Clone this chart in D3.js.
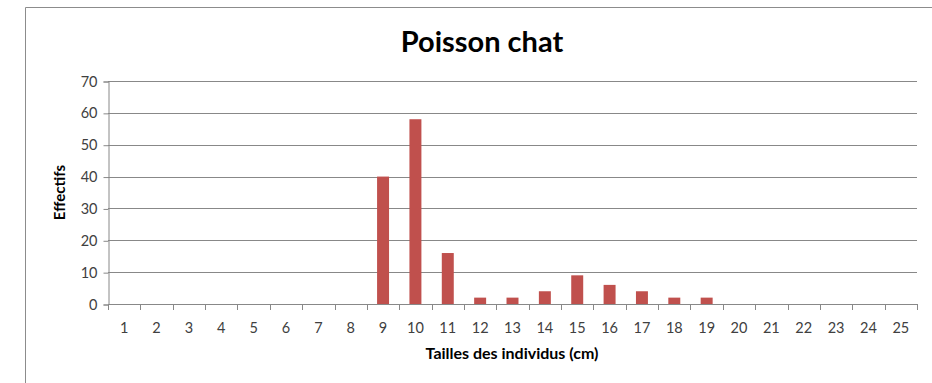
<!DOCTYPE html>
<html>
<head>
<meta charset="utf-8">
<script src="https://cdn.jsdelivr.net/npm/d3@7"></script>
<style>
  html, body { margin: 0; padding: 0; background: #fff; }
  svg { display: block; }
  text { font-family: Lato, "Open Sans", sans-serif; }
</style>
</head>
<body>
<svg id="chart" width="932" height="383"></svg>
<script>
// Size classes (cm) and counts per class
const tailles = d3.range(1, 26).map(String);
const effectifs = [0, 0, 0, 0, 0, 0, 0, 0, 40, 58, 16, 2, 2, 4, 9, 6, 4, 2, 2, 0, 0, 0, 0, 0, 0];
const yTicks = [0, 10, 20, 30, 40, 50, 60, 70];

const title = "Poisson chat";
const xTitle = "Tailles des individus (cm)";
const yTitle = "Effectifs";

const svg = d3.select("#chart");
const W = 932, H = 383;
const plot = { left: 108, right: 917, top: 81, bottom: 304 };

// Outer chart frame
svg.append("path")
  .attr("d", `M25.5,${H} V7.5 H${W}`)
  .attr("fill", "none")
  .attr("stroke", "#8c8c8c")
  .attr("stroke-width", 1);

const x = d3.scaleBand()
  .domain(tailles)
  .range([plot.left, plot.right])
  .paddingInner(0.63)
  .paddingOuter(0.315);

const y = d3.scaleLinear()
  .domain([0, 70])
  .range([plot.bottom, plot.top]);

// Horizontal gridlines
svg.append("g")
  .selectAll("line")
  .data(yTicks.filter(d => d > 0))
  .join("line")
  .attr("x1", plot.left)
  .attr("x2", plot.right)
  .attr("y1", d => Math.round(y(d)) + 0.5)
  .attr("y2", d => Math.round(y(d)) + 0.5)
  .attr("stroke", "#888")
  .attr("stroke-width", 1);

// Bars
svg.append("g")
  .selectAll("rect")
  .data(effectifs.map((v, i) => ({ k: tailles[i], v })))
  .join("rect")
  .attr("x", d => x(d.k))
  .attr("width", x.bandwidth())
  .attr("y", d => y(d.v))
  .attr("height", d => y(0) - y(d.v))
  .attr("fill", "#C0504D");

// Y axis
const yAxis = d3.axisLeft(y).tickValues(yTicks).tickSize(5).tickPadding(6);
const gy = svg.append("g")
  .attr("transform", `translate(${plot.left + 0.5},0.5)`)
  .call(yAxis);
gy.select(".domain").attr("stroke", "#888");
gy.selectAll(".tick line").attr("stroke", "#888");
gy.selectAll(".tick text")
  .attr("font-size", 14.5)
  .attr("fill", "#404040")
  .style("font-family", "Lato, 'Open Sans', sans-serif");

// X axis: ticks on category boundaries, labels centred in each band
const step = x.step();
const boundaries = d3.range(0, tailles.length + 1).map(i => plot.left + i * step);
const gx = svg.append("g");
gx.append("line")
  .attr("x1", plot.left).attr("x2", plot.right + 1)
  .attr("y1", plot.bottom + 0.5).attr("y2", plot.bottom + 0.5)
  .attr("stroke", "#888");
gx.selectAll("line.tk")
  .data(boundaries)
  .join("line")
  .attr("class", "tk")
  .attr("x1", d => Math.round(d) + 0.5)
  .attr("x2", d => Math.round(d) + 0.5)
  .attr("y1", plot.bottom)
  .attr("y2", plot.bottom + 6)
  .attr("stroke", "#888");
gx.selectAll("text")
  .data(tailles)
  .join("text")
  .attr("x", d => x(d) + x.bandwidth() / 2)
  .attr("y", 333)
  .attr("text-anchor", "middle")
  .attr("font-size", 14.5)
  .attr("fill", "#404040")
  .text(d => d);

// Titles
svg.append("text")
  .attr("x", 482)
  .attr("y", 52)
  .attr("text-anchor", "middle")
  .attr("font-size", 29)
  .attr("font-weight", "bold")
  .attr("fill", "#000")
  .text(title);

svg.append("text")
  .attr("x", 512)
  .attr("y", 359)
  .attr("text-anchor", "middle")
  .attr("font-size", 16)
  .attr("font-weight", "bold")
  .attr("fill", "#000")
  .text(xTitle);

svg.append("text")
  .attr("transform", `translate(65,${(plot.top + plot.bottom) / 2}) rotate(-90)`)
  .attr("text-anchor", "middle")
  .attr("font-size", 15)
  .attr("font-weight", "bold")
  .attr("fill", "#000")
  .text(yTitle);
</script>
</body>
</html>
